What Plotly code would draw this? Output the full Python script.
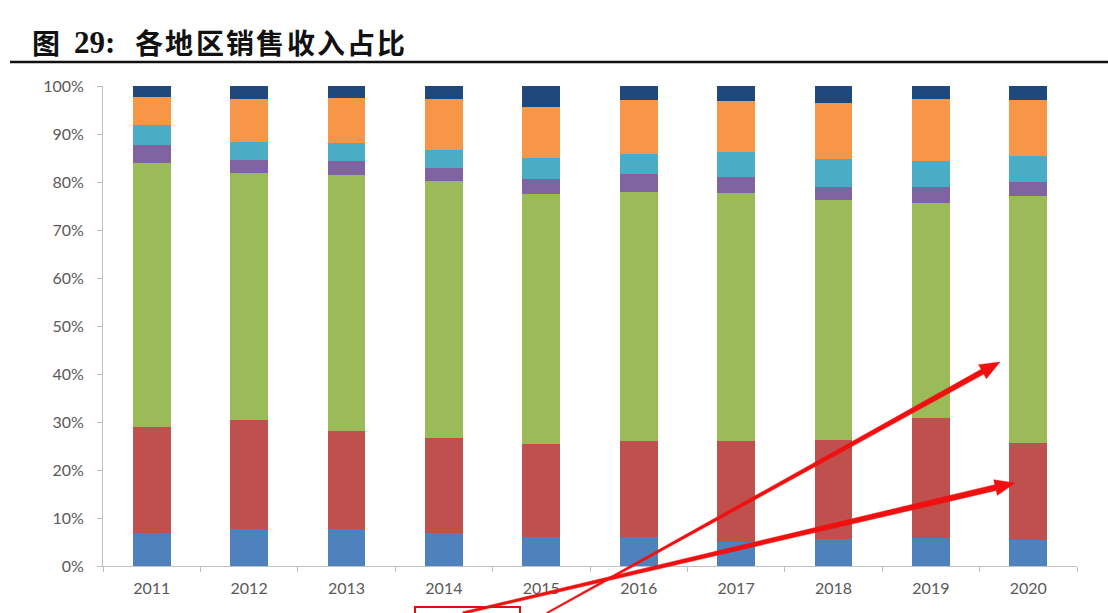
import math
import plotly.graph_objects as go

years = ["2011", "2012", "2013", "2014", "2015", "2016", "2017", "2018", "2019", "2020"]

s1 = [6.8, 7.8, 7.8, 6.8, 6.1, 6.1, 5.0, 5.6, 5.9, 5.4]          # blue
s2 = [22.2, 22.6, 20.3, 19.8, 19.3, 19.9, 21.0, 20.7, 24.9, 20.2]  # red
s3 = [55.2, 51.4, 53.4, 53.6, 52.2, 52.0, 51.8, 50.0, 44.8, 51.5]  # green
s4 = [3.7, 2.8, 2.9, 2.7, 3.0, 3.6, 3.2, 2.7, 3.3, 3.0]            # purple
s5 = [4.2, 3.8, 3.7, 3.8, 4.5, 4.2, 5.3, 5.7, 5.5, 5.3]            # cyan
s6 = [5.8, 8.9, 9.5, 10.6, 10.5, 11.3, 10.5, 11.8, 12.9, 11.7]     # orange
s7 = [2.3, 2.7, 2.4, 2.7, 4.4, 2.9, 3.2, 3.5, 2.7, 2.9]            # navy

series = [("系列1", s1, "#4F81BD"), ("系列2", s2, "#C0504D"), ("系列3", s3, "#9BBB59"),
          ("系列4", s4, "#8064A2"), ("系列5", s5, "#4BACC6"), ("系列6", s6, "#F79646"),
          ("系列7", s7, "#1F497D")]

y_ticks = [0, 10, 20, 30, 40, 50, 60, 70, 80, 90, 100]
y_tick_text = [f"{v}%" for v in y_ticks]

fig = go.Figure()
for name, vals, col in series:
    fig.add_trace(go.Bar(x=years, y=vals, name=name, marker=dict(color=col, line=dict(width=0))))

L, R, T, B, W, H = 103, 31, 86, 47, 1108, 613
PW, PH = W - L - R, H - T - B

def px(x, y):
    return (x - L) / PW, (H - B - y) / PH

fig.update_layout(
    barmode="stack",
    barnorm="percent",
    bargap=0.61,
    width=W, height=H,
    margin=dict(l=L, r=R, t=T, b=B),
    paper_bgcolor="white", plot_bgcolor="white",
    showlegend=False,
    font=dict(family="Lato, sans-serif", size=16, color="#595959"),
    xaxis=dict(showline=True, linecolor="#BFBFBF", linewidth=1, ticks="outside", ticklen=5,
               tickcolor="#BFBFBF", tickson="boundaries", showgrid=False, ticklabelstandoff=8,
               tickfont=dict(size=16, color="#595959")),
    yaxis=dict(range=[0, 100], tickvals=y_ticks, ticktext=y_tick_text, showline=True,
               linecolor="#BFBFBF", linewidth=1, ticks="outside", ticklen=5, tickcolor="#BFBFBF",
               showgrid=False, zeroline=False, ticklabelstandoff=10,
               tickfont=dict(size=16, color="#595959")),
)

# Title pieces and rule
tf = dict(family="Noto Sans CJK SC", size=28, color="#111111")
x0, y0 = px(30, 42)
fig.add_annotation(text="<b>图</b>", xref="paper", yref="paper", x=x0, y=y0,
                   xanchor="left", yanchor="middle", showarrow=False, font=tf)
x1, _ = px(72, 42)
fig.add_annotation(text="<b>29:</b>", xref="paper", yref="paper", x=x1, y=y0,
                   xanchor="left", yanchor="middle", showarrow=False,
                   font=dict(family="Liberation Serif", size=31, color="#111111"))
title_chars = "各地区销售收入占比"
for i, ch in enumerate(title_chars):
    xc, _ = px(133 + i * 30.3, 42)
    fig.add_annotation(text=f"<b>{ch}</b>", xref="paper", yref="paper", x=xc, y=y0,
                       xanchor="left", yanchor="middle", showarrow=False, font=tf)
ry = px(0, 62)[1]
fig.add_shape(type="line", xref="paper", yref="paper", x0=px(10, 0)[0], x1=px(1108, 0)[0],
              y0=ry, y1=ry, line=dict(color="#111111", width=2.5))

# Red hand-drawn arrows overlaid on the reference
def arrow(tail, head, w0, w1, hl=20, hw=8):
    tx, ty = tail
    hx, hy = head
    dx, dy = hx - tx, hy - ty
    d = math.hypot(dx, dy)
    ux, uy = dx / d, dy / d
    nx, ny = -uy, ux
    bx, by = hx - hl * ux, hy - hl * uy
    pts = [(tx + nx * w0 / 2, ty + ny * w0 / 2), (bx + nx * w1 / 2, by + ny * w1 / 2),
           (bx + nx * hw, by + ny * hw), (hx, hy), (bx - nx * hw, by - ny * hw),
           (bx - nx * w1 / 2, by - ny * w1 / 2), (tx - nx * w0 / 2, ty - ny * w0 / 2)]
    path = "M " + " L ".join(f"{px(a, b)[0]:.5f},{px(a, b)[1]:.5f}" for a, b in pts) + " Z"
    fig.add_shape(type="path", xref="paper", yref="paper", path=path,
                  fillcolor="#F01010", line=dict(color="#F01010", width=0.5))

arrow((547, 613), (1000, 362), 1.5, 5.5)
arrow((463, 613), (1015, 483), 2.5, 6)
fig.add_shape(type="rect", xref="paper", yref="paper", x0=px(415, 0)[0], x1=px(520, 0)[0],
              y0=px(0, 607)[1], y1=px(0, 625)[1], line=dict(color="#E01010", width=2))

fig.write_html("out.html")
